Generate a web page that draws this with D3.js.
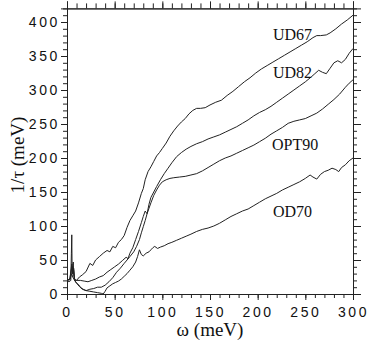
<!DOCTYPE html>
<html>
<head>
<meta charset="utf-8">
<script src="https://cdn.jsdelivr.net/npm/d3@7"></script>
<style>
  body { margin: 0; background: #fff; }
  .tick text { font-family: "Liberation Sans", Arial, sans-serif; font-size: 14px; letter-spacing: 2.6px; fill: #111; }
  .axis path, .axis line { stroke: #222; }
  .curve { fill: none; stroke: #222; stroke-width: 1; }
  .tag { font-family: "Liberation Serif", "Times New Roman", serif; font-size: 16px; fill: #111; }
  .title { font-family: "Liberation Serif", "Times New Roman", serif; font-size: 19px; fill: #111; }
</style>
</head>
<body>
<svg id="chart" width="382" height="341"></svg>
<script>
// scattering rate 1/tau vs omega
const xTicks = [0, 50, 100, 150, 200, 250, 300];
const yTicks = [0, 50, 100, 150, 200, 250, 300, 350, 400];

const ud67 = [[0,20],[3,22],[5,40],[6,30],[7,38],[8,22],[10,20],[13,25],[16,28],[20,33],[24,45],[27,42],[30,50],[34,55],[38,60],[42,64],[45,62],[48,70],[51,68],[54,76],[57,80],[60,86],[63,98],[66,108],[69,115],[72,122],[75,134],[78,148],[80,155],[82,168],[85,180],[88,187],[91,195],[94,203],[97,208],[100,214],[104,222],[108,232],[112,240],[116,247],[120,253],[124,258],[128,265],[132,270],[136,273],[140,273],[145,274],[150,278],[156,282],[162,285],[168,292],[174,298],[180,305],[186,312],[192,318],[198,325],[204,331],[210,336],[216,341],[222,346],[228,351],[234,356],[240,361],[246,366],[252,371],[258,377],[262,380],[266,380],[272,381],[276,384],[282,390],[288,397],[294,403],[300,410]];

const ud82 = [[0,20],[3,21],[5,30],[6,25],[8,20],[10,20],[14,20],[18,19],[22,18],[26,20],[30,22],[34,25],[38,27],[42,32],[46,36],[50,40],[54,44],[58,49],[62,54],[64,52],[66,60],[69,68],[72,80],[75,92],[78,105],[80,114],[82,122],[84,118],[86,132],[88,142],[91,150],[94,158],[98,168],[102,177],[106,185],[110,193],[115,202],[120,208],[125,213],[130,217],[136,221],[142,224],[148,228],[154,231],[160,234],[166,238],[172,242],[178,246],[184,251],[190,256],[196,262],[202,267],[208,271],[214,276],[220,282],[226,288],[232,294],[238,300],[244,306],[250,312],[256,319],[260,324],[264,329],[268,326],[272,324],[276,332],[280,340],[284,343],[288,340],[292,345],[296,354],[300,361]];

const opt90 = [[0,20],[3,22],[5,44],[6,30],[7,36],[8,20],[10,16],[13,11],[16,7],[20,5],[24,7],[28,8],[32,10],[36,10],[40,13],[44,18],[48,24],[52,32],[56,38],[60,45],[63,50],[66,55],[70,62],[73,70],[76,80],[78,90],[80,99],[82,108],[84,118],[86,126],[88,134],[91,145],[94,153],[97,160],[100,165],[104,168],[108,170],[112,171],[118,172],[124,173],[130,175],[136,177],[142,181],[148,186],[154,191],[160,196],[166,200],[172,203],[178,207],[184,211],[190,215],[196,219],[202,224],[208,229],[214,235],[220,240],[226,245],[232,251],[238,254],[244,256],[250,258],[256,262],[262,266],[268,272],[274,279],[280,286],[286,294],[292,304],[296,310],[300,315]];

const od70 = [[0,20],[2,18],[4,20],[4.6,60],[5,87],[5.4,30],[6,42],[6.6,47],[7,28],[8,20],[10,16],[12,14],[14,10],[17,7],[20,5],[24,4],[28,3],[32,2],[36,1],[38,0],[40,4],[42,9],[45,12],[48,15],[51,17],[54,19],[57,22],[60,26],[63,30],[66,35],[69,40],[72,47],[74,55],[76,65],[78,58],[80,56],[83,60],[86,62],[88,65],[90,68],[92,70],[95,67],[98,69],[102,71],[106,74],[110,76],[115,79],[120,82],[125,85],[130,88],[136,92],[142,95],[148,97],[154,100],[160,104],[166,109],[172,114],[178,118],[184,122],[190,125],[196,130],[202,135],[208,140],[214,144],[220,148],[226,153],[232,157],[238,161],[244,165],[250,170],[255,175],[258,172],[262,169],[266,176],[270,180],[274,182],[278,185],[282,183],[285,180],[288,186],[292,190],[296,196],[300,200]];

const series = [
    { name: 'UD67', values: ud67, at: [216, 374] },
    { name: 'UD82', values: ud82, at: [216, 318] },
    { name: 'OPT90', values: opt90, at: [215, 212] },
    { name: 'OD70', values: od70, at: [216, 113] },
];

const svg = d3.select('#chart');
const x = d3.scaleLinear().domain([0, 300]).range([67, 353]);
const y = d3.scaleLinear().domain([0, 420]).range([294, 8.4]);
const minorX = d3.range(0, 301, 10);
const minorY = d3.range(0, 420, 10);

// minor ticks first, majors drawn on top
svg.append('g').attr('class', 'axis').attr('transform', 'translate(0,294)')
    .call(d3.axisBottom(x).tickValues(minorX).tickSize(4).tickFormat(''));
svg.append('g').attr('class', 'axis').attr('transform', 'translate(0,294)')
    .call(d3.axisBottom(x).tickValues(xTicks).tickSize(6).tickPadding(7).tickFormat(d3.format('d')));
svg.append('g').attr('class', 'axis').attr('transform', `translate(0,${y(420)})`)
    .call(d3.axisTop(x).tickValues(minorX).tickSize(5).tickFormat(''));
svg.append('g').attr('class', 'axis').attr('transform', `translate(0,${y(420)})`)
    .call(d3.axisTop(x).tickValues(xTicks).tickSize(7).tickFormat(''));

svg.append('g').attr('class', 'axis').attr('transform', 'translate(67,0)')
    .call(d3.axisLeft(y).tickValues(minorY).tickSize(4).tickFormat(''));
svg.append('g').attr('class', 'axis').attr('transform', 'translate(67,0)')
    .call(d3.axisLeft(y).tickValues(yTicks).tickSize(6).tickPadding(1).tickFormat(d3.format('d')));
svg.append('g').attr('class', 'axis').attr('transform', 'translate(353,0)')
    .call(d3.axisRight(y).tickValues(minorY).tickSize(4).tickFormat(''));
svg.append('g').attr('class', 'axis').attr('transform', 'translate(353,0)')
    .call(d3.axisRight(y).tickValues(yTicks).tickSize(8).tickFormat(''));

const line = d3.line().x((d) => x(d[0])).y((d) => y(d[1]));

svg.selectAll('path.curve')
    .data(series)
    .join('path')
    .attr('class', 'curve')
    .attr('d', (d) => line(d.values));

svg.selectAll('text.tag')
    .data(series)
    .join('text')
    .attr('class', 'tag')
    .attr('x', (d) => x(d.at[0]))
    .attr('y', (d) => y(d.at[1]))
    .text((d) => d.name);

svg.append('text')
    .attr('class', 'title')
    .attr('x', 210)
    .attr('y', 336)
    .attr('text-anchor', 'middle')
    .text('ω (meV)');

svg.append('text')
    .attr('class', 'title')
    .attr('transform', 'translate(24,155) rotate(-90)')
    .attr('text-anchor', 'middle')
    .text('1/τ (meV)');
</script>
</body>
</html>
